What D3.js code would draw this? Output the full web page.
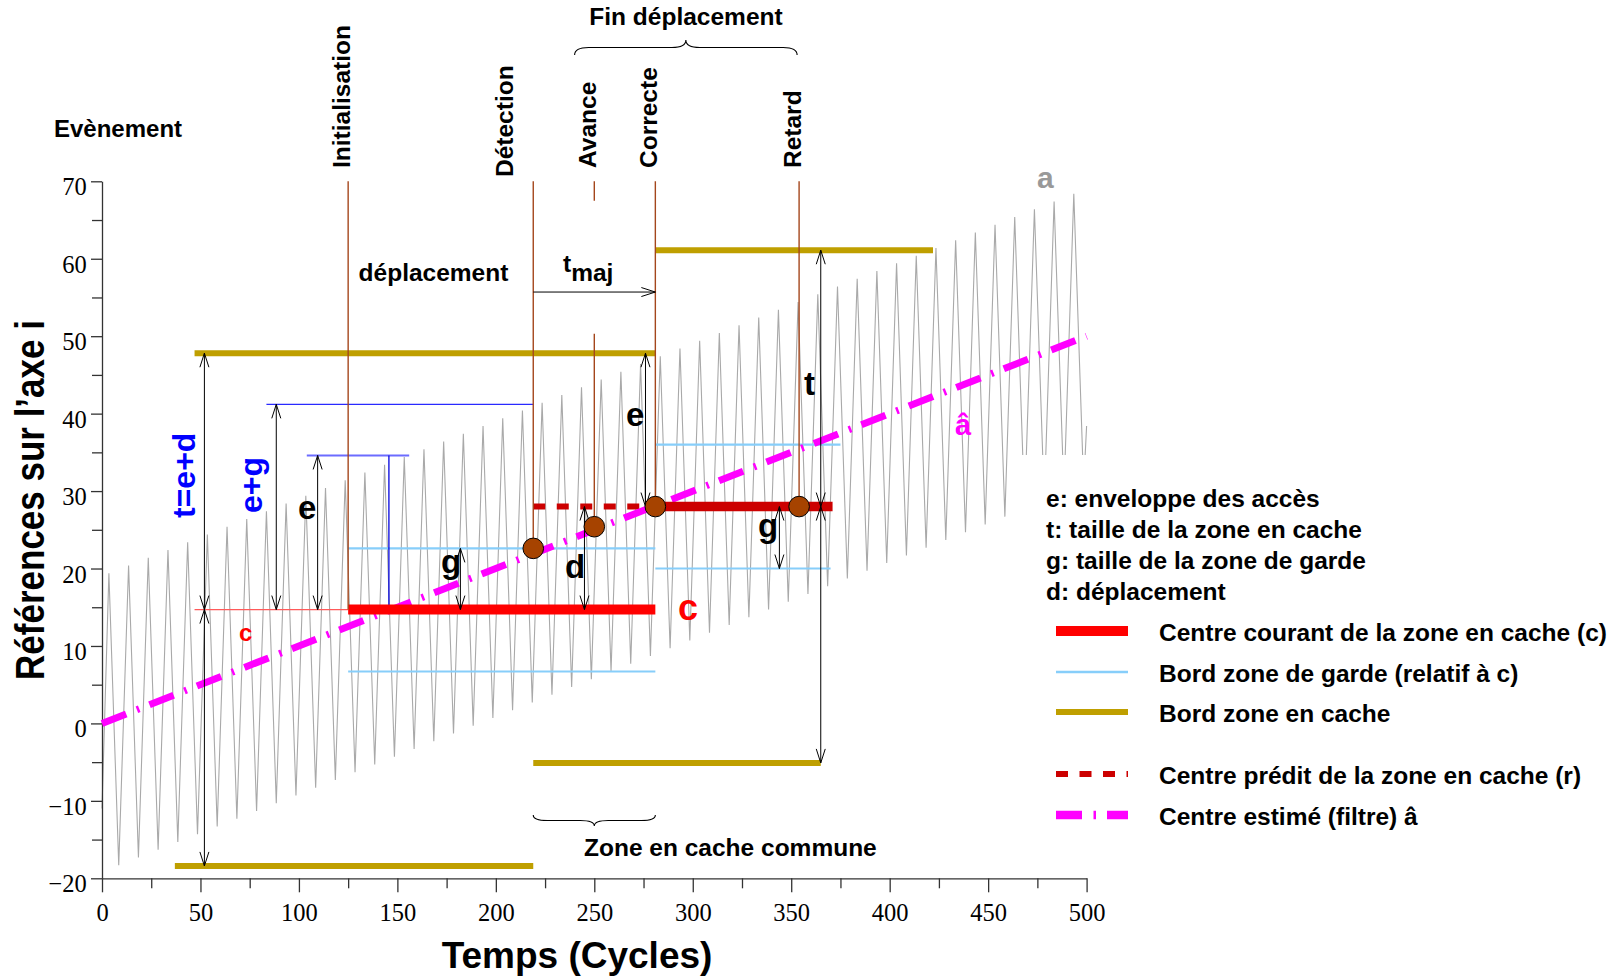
<!DOCTYPE html>
<html>
<head>
<meta charset="utf-8">
<script src="https://cdn.jsdelivr.net/npm/d3@7"></script>
<style>
  html, body { margin: 0; padding: 0; background: #fff; }
  svg { display: block; }
  .sans { font-family: "Liberation Sans", Arial, Helvetica, sans-serif; font-weight: bold; }
</style>
</head>
<body>
<svg id="chart" width="1616" height="980"></svg>
<script>
// ---------- data ----------
const xTicks = [0, 50, 100, 150, 200, 250, 300, 350, 400, 450, 500];
const xMinor = [25, 75, 125, 175, 225, 275, 325, 375, 425, 475];
const yTicks = [-20, -10, 0, 10, 20, 30, 40, 50, 60, 70];
const yMinor = [-15, -5, 5, 15, 25, 35, 45, 55, 65];

// access trace "a": turning points (cycle, reference)
const signalT = [0,
  3.5, 8.5, 13.5, 18.5, 23.5, 28.5, 33.5, 38.5, 43.5, 48.5,
  53.5, 58.5, 63.5, 68.5, 73.5, 78.5, 83.5, 88.5, 93.5, 98.5,
  103.5, 108.5, 113.5, 118.5, 123.5, 128.5, 133.5, 138.5, 143.5, 148.5,
  153.5, 158.5, 163.5, 168.5, 173.5, 178.5, 183.5, 188.5, 193.5, 198.5,
  203.5, 208.5, 213.5, 218.5, 223.5, 228.5, 233.5, 238.5, 243.5, 248.5,
  253.5, 258.5, 263.5, 268.5, 273.5, 278.5, 283.5, 288.5, 293.5, 298.5,
  303.5, 308.5, 313.5, 318.5, 323.5, 328.5, 333.5, 338.5, 343.5, 348.5,
  353.5, 358.5, 363.5, 368.5, 373.5, 378.5, 383.5, 388.5, 393.5, 398.5,
  403.5, 408.5, 413.5, 418.5, 423.5, 428.5, 433.5, 438.5, 443.5, 448.5,
  453.5, 458.5, 463.5, 468.5, 473.5, 478.5, 483.5, 488.5, 493.5, 498.5,
  500];
const signalV = [-11,
  19.4, -18.3, 20.4, -17.3, 21.4, -16.3, 22.4, -15.3, 23.4, -14.3,
  24.4, -13.3, 25.4, -12.3, 26.4, -11.3, 27.4, -10.3, 28.4, -9.3,
  29.4, -8.3, 30.4, -7.3, 31.4, -6.3, 32.4, -5.3, 33.4, -4.3,
  34.4, -3.3, 35.4, -2.3, 36.4, -1.3, 37.4, -0.3, 38.4, 0.7,
  39.4, 1.7, 40.4, 2.7, 41.4, 3.7, 42.4, 4.7, 43.4, 5.7,
  44.4, 6.7, 45.4, 7.7, 46.4, 8.7, 47.4, 9.7, 48.4, 10.7,
  49.4, 11.7, 50.4, 12.7, 51.4, 13.7, 52.4, 14.7, 53.4, 15.7,
  54.4, 16.7, 55.4, 17.7, 56.4, 18.7, 57.4, 19.7, 58.4, 20.7,
  59.4, 21.7, 60.4, 22.7, 61.4, 23.7, 62.4, 24.7, 63.4, 25.7,
  64.4, 26.7, 65.4, 27.7, 66.4, 28.7, 67.4, 29.7, 68.4, 30.7,
  38.4];

// filtered estimate â (straight trend)
const estimateT = [0, 500];
const estimateV = [0, 50];

// events
const eventNames = ["Initialisation", "Détection", "Avance", "Correcte", "Retard"];
const eventT = [125, 219, 250, 281, 354];
const eventEnd = [14.7, 22.6, 25.4, 28.0, 28.0];

// event markers
const markerT = [219, 250, 281, 354];
const markerV = [22.6, 25.4, 28.0, 28.0];

// current centre c (two successive positions)
const centreStart = [125, 281];
const centreEnd = [281, 371];
const centreV = [14.7, 28.0];

// predicted centre r
const predStart = 219, predEnd = 281, predV = 28.0;

// guard zone edges
const guardStart = [125, 125, 281, 281];
const guardEnd = [281, 281, 375, 370];
const guardV = [22.6, 6.7, 36.0, 20.0];

// cache zone edges
const cacheStart = [47, 37, 281, 219];
const cacheEnd = [281, 219, 422, 365];
const cacheV = [47.8, -18.4, 61.1, -5.1];

// envelope markers e+g and e
const envStart = [83.5, 104];
const envEnd = [219, 156];
const envV = [41.2, 34.6];

// dimension arrows (cycle, from, to)
const arrowT = [52, 52, 88.5, 109.5, 182, 245, 276, 344, 365, 365];
const arrowFrom = [14.7, 14.7, 14.7, 14.7, 14.7, 14.7, 28.0, 28.0, 28.0, 28.0];
const arrowTo = [47.8, -18.4, 41.2, 34.6, 22.6, 28.0, 47.8, 20.0, 61.1, -5.1];

const legendNotes = ["e: enveloppe des accès", "t: taille de la zone en cache",
  "g: taille de la zone de garde", "d: déplacement"];
const legendItems = ["Centre courant de la zone en cache (c)", "Bord zone de garde (relatif à c)",
  "Bord zone en cache", "Centre prédit de la zone en cache (r)", "Centre estimé (filtre) â"];

// ---------- drawing ----------
const svg = d3.select("#chart");
const x = d3.scaleLinear().domain([0, 500]).range([102, 1086.6]);
const y = d3.scaleLinear().domain([-20, 70]).range([878.3, 181.3]);

const C = {
  trace: "#a9a9a9", guard: "#87cefa", cache: "#bf9f00", centre: "#ff0000",
  centre2: "#cc0000", pred: "#cc0000", est: "#ff00ff", event: "#a4461c",
  marker: "#a64300", blue: "#0000ff"
};
const serifFont = '"Liberation Serif", "Nimbus Roman", "Times New Roman", Times, "DejaVu Serif", serif';

function hseg(t0, t1, v, color, w, dash) {
  const l = svg.append("line")
    .attr("x1", x(t0)).attr("x2", x(t1)).attr("y1", y(v)).attr("y2", y(v))
    .attr("stroke", color).attr("stroke-width", w);
  if (dash) l.attr("stroke-dasharray", dash);
  return l;
}
function vseg(t, v0, v1, color, w) {
  return svg.append("line")
    .attr("x1", x(t)).attr("x2", x(t)).attr("y1", y(v0)).attr("y2", y(v1))
    .attr("stroke", color).attr("stroke-width", w);
}
function head(tx, ty, dx, dy) {
  const L = 14, W = 4.5;
  const bx = tx - dx * L, by = ty - dy * L, px = -dy, py = dx;
  svg.append("path")
    .attr("d", `M${bx + px * W},${by + py * W}L${tx},${ty}L${bx - px * W},${by - py * W}`)
    .attr("fill", "none").attr("stroke", "#000").attr("stroke-width", 1);
}
function vArrow(t, v0, v1) {
  const px = x(t), y0 = y(v0), y1 = y(v1);
  svg.append("line").attr("x1", px).attr("x2", px).attr("y1", y0).attr("y2", y1)
    .attr("stroke", "#000").attr("stroke-width", 1);
  const s = Math.sign(y1 - y0);
  head(px, y1, 0, s);
  head(px, y0, 0, -s);
}
function brace(x0, x1, yEnd, yTip) {
  const xm = (x0 + x1) / 2, q = (yEnd + yTip) / 2, r = 14;
  svg.append("path")
    .attr("d", `M${x0},${yEnd}Q${x0},${q} ${x0 + r},${q}L${xm - r},${q}Q${xm},${q} ${xm},${yTip}` +
      `Q${xm},${q} ${xm + r},${q}L${x1 - r},${q}Q${x1},${q} ${x1},${yEnd}`)
    .attr("fill", "none").attr("stroke", "#000").attr("stroke-width", 1.1);
}
function text(px, py, s, size, fill, anchor) {
  return svg.append("text").attr("class", "sans")
    .attr("x", px).attr("y", py).attr("font-size", size).attr("fill", fill || "#000")
    .attr("text-anchor", anchor || "start").text(s);
}
function vtext(px, py, s, size, fill, anchor, stretch) {
  return svg.append("text").attr("class", "sans")
    .attr("transform", `translate(${px},${py}) rotate(-90) scale(1,${stretch || 1})`)
    .attr("font-size", size).attr("fill", fill || "#000")
    .attr("text-anchor", anchor || "start").text(s);
}

// access trace
const idx = d3.range(Math.min(signalT.length, signalV.length));
svg.append("path").datum(idx)
  .attr("d", d3.line().x(i => x(signalT[i])).y(i => y(signalV[i])))
  .attr("fill", "none").attr("stroke", C.trace).attr("stroke-width", 1.1);

// white panel under the legend
svg.append("rect").attr("x", 1020).attr("y", 455).attr("width", 596).attr("height", 385).attr("fill", "#fff");

// axes
const gx = svg.append("g").attr("transform", `translate(0,${y(-20)})`)
  .call(d3.axisBottom(x).tickValues(xTicks).tickSize(14).tickSizeOuter(0).tickFormat(d3.format("d")));
svg.append("g").attr("transform", `translate(0,${y(-20)})`)
  .call(d3.axisBottom(x).tickValues(xMinor).tickSize(10).tickFormat(""))
  .call(g => g.select(".domain").remove());
const gy = svg.append("g").attr("transform", `translate(${x(0)},0)`)
  .call(d3.axisLeft(y).tickValues(yTicks).tickSize(11).tickSizeOuter(0).tickFormat(d3.format("d")));
svg.append("g").attr("transform", `translate(${x(0)},0)`)
  .call(d3.axisLeft(y).tickValues(yMinor).tickSize(10).tickFormat(""))
  .call(g => g.select(".domain").remove());
svg.selectAll(".domain, .tick line").attr("stroke", "#333").attr("stroke-width", 1.3);
[gx, gy].forEach(g => g.attr("font-family", null).attr("font-size", null));
gx.selectAll("text").attr("y", 42.7).attr("dy", 0).attr("fill", "#000")
  .style("font-family", serifFont).style("font-size", "24.5px").style("font-weight", "normal");
gy.selectAll("text").attr("x", -15.3).attr("y", 13.5).attr("dy", 0).attr("fill", "#000")
  .style("font-family", serifFont).style("font-size", "24.5px").style("font-weight", "normal");

// guard zone edges
guardV.forEach((v, i) => hseg(guardStart[i], guardEnd[i], v, C.guard, 2.2));
// envelope markers
hseg(envStart[0], envEnd[0], envV[0], "#2a2aff", 1.1);
hseg(envStart[1], envEnd[1], envV[1], "#6c6cff", 2);
vseg(145.7, envV[1], centreV[0], "#0000dd", 1.3);
// thin marker of the initial centre
hseg(cacheStart[0], centreStart[0], centreV[0], "#ff5a5a", 1.2);
// cache zone edges
cacheV.forEach((v, i) => hseg(cacheStart[i], cacheEnd[i], v, C.cache, 6));
// predicted centre
hseg(predStart, predEnd, predV, C.pred, 6, "12,11.5");
// estimated centre â
svg.append("path").datum(d3.range(estimateT.length))
  .attr("d", d3.line().x(i => x(estimateT[i])).y(i => y(estimateV[i])))
  .attr("fill", "none").attr("stroke", C.est).attr("stroke-width", 7)
  .attr("stroke-dasharray", "26,11.5,2.5,11");
// current centre c
hseg(centreStart[0], centreEnd[0], centreV[0], C.centre, 10);
hseg(centreStart[1], centreEnd[1], centreV[1], C.centre2, 9.5);

// event lines
eventT.forEach((t, i) => {
  if (eventNames[i] === "Avance") {
    vseg(t, 70, 67.5, C.event, 1.4);
    vseg(t, 50.3, eventEnd[i], C.event, 1.4);
  } else {
    vseg(t, 70, eventEnd[i], C.event, 1.4);
  }
});

// dimension arrows
arrowT.forEach((t, i) => vArrow(t, arrowFrom[i], arrowTo[i]));
// update delay t_maj
const tmY = y(55.7);
svg.append("line").attr("x1", x(219)).attr("x2", x(281)).attr("y1", tmY).attr("y2", tmY)
  .attr("stroke", "#000").attr("stroke-width", 1);
head(x(281), tmY, 1, 0);

// event markers
markerT.forEach((t, i) => {
  svg.append("circle").attr("cx", x(t)).attr("cy", y(markerV[i])).attr("r", 10.3)
    .attr("fill", C.marker).attr("stroke", "#000").attr("stroke-width", 1);
});

// braces
brace(x(240), x(353), 55, 40);
brace(x(219), x(281), 815, 826);

// ---------- labels ----------
text(54, 137, "Evènement", 24);
const labelDx = [2, -20, 1.5, 2, 2];
const labelBottom = [168, 177, 168, 168, 168];
eventNames.forEach((n, i) => vtext(x(eventT[i]) + labelDx[i], labelBottom[i], n, 24.5));
text(686, 25, "Fin déplacement", 24.5, "#000", "middle");
text(358.6, 281, "déplacement", 24.5);
const tm = text(563, 272, "t", 24.5);
tm.append("tspan").attr("dy", 9).text("maj");
text(584, 856, "Zone en cache commune", 24.5);

vtext(195, 518, "t=e+d", 32, C.blue);
vtext(262, 513, "e+g", 32, C.blue);
text(298, 519, "e", 33);
text(441, 573, "g", 33);
text(565, 578, "d", 33);
text(626, 426, "e", 33);
text(804, 395, "t", 33);
text(758, 537, "g", 33);
text(678, 620, "c", 36, "#ff0000");
text(239, 641, "c", 24, "#ff0000");
text(955, 435, "â", 29, "#ff00ff");
text(1037, 188, "a", 30, "#999999");

// axis titles
text(577, 968, "Temps (Cycles)", 37, "#000", "middle");
vtext(44, 500, "Références sur l’axe i", 35, "#000", "middle", 1.15);

// ---------- legend ----------
const noteY = [507, 538, 569, 600];
legendNotes.forEach((s, i) => text(1046, noteY[i], s, 24.5));
const itemY = [631, 672, 712, 774, 815];
const itemStyle = [
  { c: C.centre, w: 10 }, { c: C.guard, w: 2.5 }, { c: C.cache, w: 6 },
  { c: C.pred, w: 6, d: "12,11.5" }, { c: C.est, w: 8.5, d: "26,11.5,2.5,11" }
];
legendItems.forEach((s, i) => {
  const st = itemStyle[i];
  const l = svg.append("line").attr("x1", 1056).attr("x2", 1128)
    .attr("y1", itemY[i]).attr("y2", itemY[i])
    .attr("stroke", st.c).attr("stroke-width", st.w);
  if (st.d) l.attr("stroke-dasharray", st.d);
  text(1159, itemY[i] + 10, s, 24.5);
});
</script>
</body>
</html>
